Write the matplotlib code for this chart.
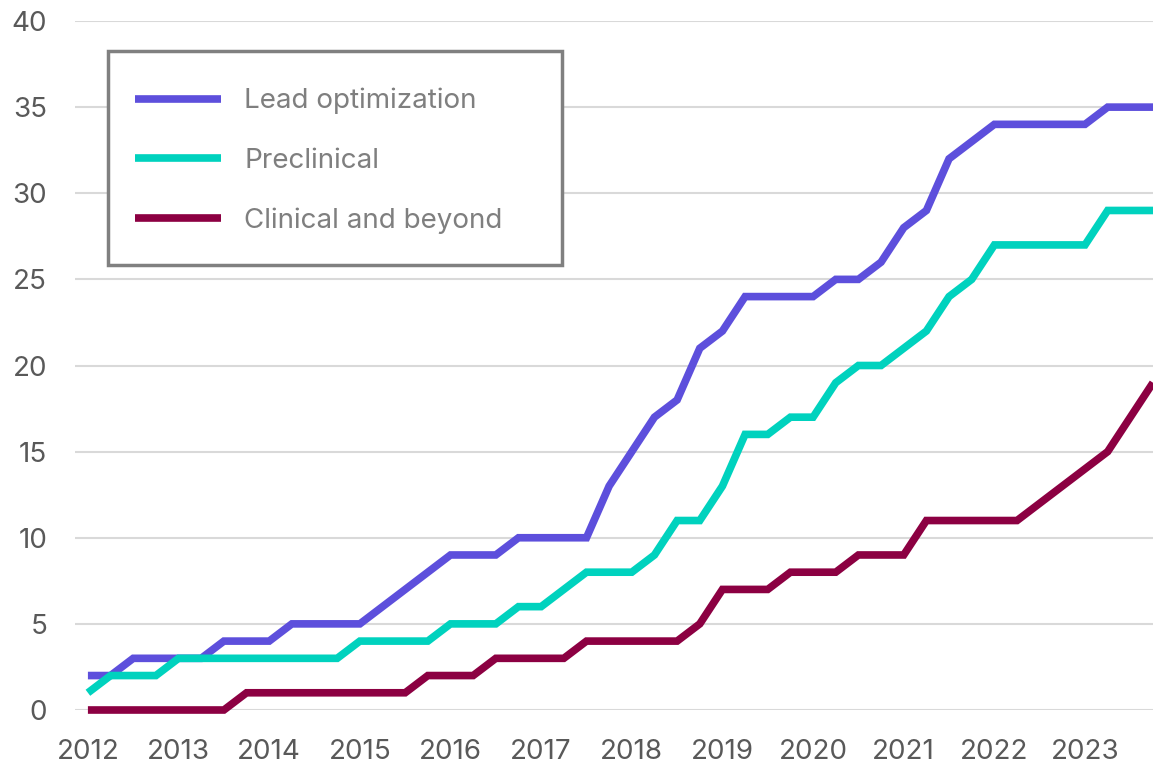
import matplotlib
matplotlib.use("Agg")
import matplotlib.pyplot as plt
from matplotlib.patches import Rectangle

years = [2012, 2013, 2014, 2015, 2016, 2017, 2018, 2019, 2020, 2021, 2022, 2023]
series_names = ["Lead optimization", "Preclinical", "Clinical and beyond"]
lead_optimization = [2, 2, 3, 3, 3, 3, 4, 4, 4, 5, 5, 5, 5, 6, 7, 8, 9, 9, 9, 10, 10, 10, 10, 13,
                     15, 17, 18, 21, 22, 24, 24, 24, 24, 25, 25, 26, 28, 29, 32, 33, 34, 34, 34, 34,
                     34, 35, 35, 35]
preclinical = [1, 2, 2, 2, 3, 3, 3, 3, 3, 3, 3, 3, 4, 4, 4, 4, 5, 5, 5, 6, 6, 7, 8, 8,
               8, 9, 11, 11, 13, 16, 16, 17, 17, 19, 20, 20, 21, 22, 24, 25, 27, 27, 27, 27,
               27, 29, 29, 29]
clinical = [0, 0, 0, 0, 0, 0, 0, 1, 1, 1, 1, 1, 1, 1, 1, 2, 2, 2, 3, 3, 3, 3, 4, 4,
            4, 4, 4, 5, 7, 7, 7, 8, 8, 8, 9, 9, 9, 11, 11, 11, 11, 11, 12, 13, 14, 15, 17, 19]
colors = ["#5D4FDC", "#00D2BE", "#8C0042"]
y_ticks = [0, 5, 10, 15, 20, 25, 30, 35, 40]

plt.rcParams['font.family'] = ['Inter', 'DejaVu Sans']

W, H = 1153, 766
fig = plt.figure(figsize=(W / 100, H / 100), dpi=100)
ax = fig.add_axes([75 / W, (H - 710) / H, (W - 75) / W, (710 - 21) / H])

quarters = list(range(len(lead_optimization)))
for vals, name, c in zip([lead_optimization, preclinical, clinical], series_names, colors):
    ax.plot(quarters, vals, color=c, lw=5.5, label=name, clip_on=False,
            solid_joinstyle='miter', solid_capstyle='butt')

ax.set_xlim(-0.57, len(quarters) - 1)
ax.set_ylim(0, 40)
ax.set_yticks(y_ticks)
ax.set_xticks([i * 4 for i in range(len(years))])
ax.set_xticklabels([str(y) for y in years])
ax.grid(axis='y', color='#D9D9D9', lw=1.5)
ax.set_axisbelow(True)
for s in ax.spines.values():
    s.set_visible(False)
ax.tick_params(axis='both', length=0, labelsize=20, labelcolor='#595959')
ax.tick_params(axis='y', pad=20)
ax.tick_params(axis='x', pad=21)

# legend frame
fig.patches.append(Rectangle((108 / W, (H - 265) / H), (562 - 108) / W, (265 - 51) / H,
                             transform=fig.transFigure, fill=True, facecolor='white',
                             edgecolor='#808080', lw=2.5, zorder=5))
leg = fig.legend(loc='upper left', bbox_to_anchor=(121 / W, (H - 74) / H), frameon=False,
                 fontsize=20, handlelength=3.1, handletextpad=0.83, labelspacing=1.2,
                 borderpad=0)
leg.set_zorder(6)
for t in leg.get_texts():
    t.set_color('#7F7F7F')

fig.savefig("out.png", dpi=100)
